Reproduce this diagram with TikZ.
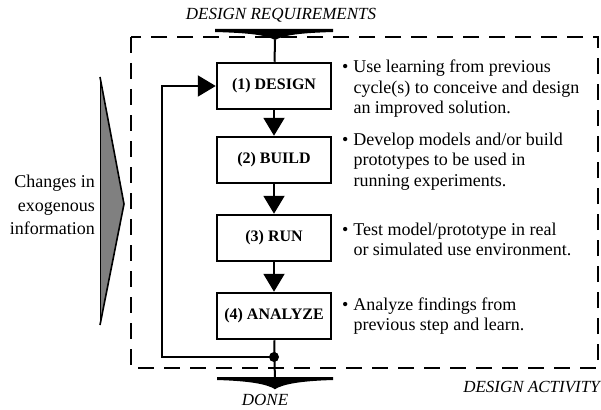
\documentclass[tikz,border=0pt]{standalone}
\usepackage{fontspec}
\setmainfont{Liberation Serif}
\usetikzlibrary{arrows.meta}

\newcommand{\bulleted}[1]{\begin{tabular}[t]{@{}l@{\hspace{5pt}}l@{}}\textbullet & #1\end{tabular}}

\begin{document}
\begin{tikzpicture}[x=1pt, y=-1pt,
  stepbox/.style={draw, line width=2.5pt, minimum width=114pt, minimum height=46pt,
    font=\fontsize{16}{18}\selectfont\bfseries},
  note/.style={anchor=base west, inner sep=0pt, font=\fontsize{18}{20.5}\selectfont},
  heading/.style={inner sep=0pt, font=\fontsize{17}{20}\selectfont\itshape},
  flow/.style={line width=2pt, -{Triangle[length=18pt,width=21pt]}}]
\useasboundingbox (0,0) rectangle (601,409);

% design activity frame
\draw[line width=1.5pt, dash pattern=on 16pt off 10pt] (131,37) rectangle (598,368);

% exogenous information
\fill[black!50] (100,77) -- (124,204) -- (100,325) -- cycle;
\draw[line width=0.6pt] (100,77) -- (100,325);
\draw[line width=1.6pt] (100,77) -- (124,204) -- (100,325);
\node[inner sep=0pt, anchor=east, align=right, font=\fontsize{18}{23.5}\selectfont] (exo) at (95,205)
  {Changes in\\exogenous\\information};

% steps
\node[stepbox] (design) at (274,86) {(1) DESIGN};
\node[stepbox] (build) at (274,160) {(2) BUILD};
\node[stepbox] (run) at (274,238) {(3) RUN};
\node[stepbox] (analyze) at (274,316) {(4) ANALYZE};

\draw[flow] (design) -- (build);
\draw[flow] (build) -- (run);
\draw[flow] (run) -- (analyze);

% input and output funnels
\coordinate (req) at (275,40);
\coordinate (done) at (275,389);
\fill (215,29) -- (333,29) -- (333,32) .. controls (300,33) and (284,35) .. (req)
  .. controls (266,35) and (250,33) .. (215,32) -- cycle;
\fill (217,377) -- (333,377) -- (333,380) .. controls (300,381) and (284,384) .. (done)
  .. controls (266,384) and (250,381) .. (217,380) -- cycle;
\draw[line width=2pt] (req) -- (design);
\draw[line width=2pt] (analyze) -- (done);

% feedback loop
\coordinate (join) at (274,357);
\coordinate (back) at (162,357);
\fill (join) circle (5pt);
\draw[flow] (join) -- (back) |- (design.west);

% labels
\node[heading] (reqtext) at (281,15) {DESIGN REQUIREMENTS};
\node[heading] (donetext) at (265,400) {DONE};
\node[heading, anchor=east] (acttext) at (600,387) {DESIGN ACTIVITY};

% notes
\node[note] (designnote) at (342,73) {\bulleted{Use learning from previous\\ & cycle(s) to conceive and design\\ & an improved solution.}};
\node[note] (buildnote) at (342,145) {\bulleted{Develop models and/or build\\ & prototypes to be used in\\ & running experiments.}};
\node[note] (runnote) at (342,235) {\bulleted{Test model/prototype in real\\ & or simulated use environment.}};
\node[note] (analyzenote) at (342,310) {\bulleted{Analyze findings from\\ & previous step and learn.}};

\end{tikzpicture}
\end{document}
